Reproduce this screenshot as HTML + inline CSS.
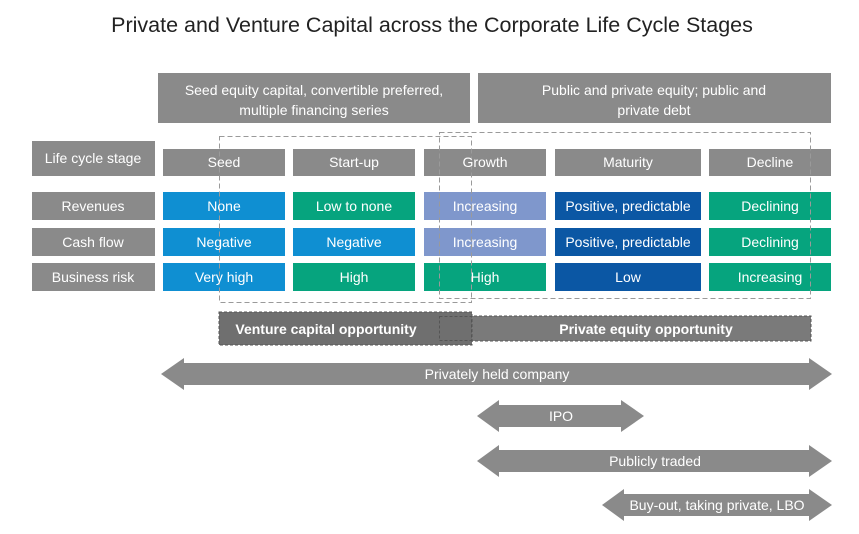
<!DOCTYPE html>
<html><head><meta charset="utf-8"><style>
html,body{margin:0;padding:0;background:#fff;}
svg{display:block;font-family:"Liberation Sans",sans-serif;}
</style></head><body>
<svg width="859" height="534" viewBox="0 0 859 534" xmlns="http://www.w3.org/2000/svg">
<text x="432" y="32" font-size="21.5" fill="#222" text-anchor="middle">Private and Venture Capital across the Corporate Life Cycle Stages</text>
<g fill="#8a8a8a">
<rect x="158" y="73" width="312" height="50"/>
<rect x="478" y="73" width="353" height="50"/>
<rect x="32" y="141" width="123" height="35"/>
<rect x="32" y="192" width="123" height="28"/>
<rect x="32" y="228" width="123" height="28"/>
<rect x="32" y="263" width="123" height="28"/>
<rect x="163" y="149" width="122" height="27"/>
<rect x="293" y="149" width="122" height="27"/>
<rect x="424" y="149" width="122" height="27"/>
<rect x="555" y="149" width="146" height="27"/>
<rect x="709" y="149" width="122" height="27"/>
</g>
<rect x="163" y="192" width="122" height="28" fill="#0f8fd2"/>
<rect x="293" y="192" width="122" height="28" fill="#06a47e"/>
<rect x="424" y="192" width="122" height="28" fill="#7f97cc"/>
<rect x="555" y="192" width="146" height="28" fill="#0b57a4"/>
<rect x="709" y="192" width="122" height="28" fill="#06a47e"/>
<rect x="163" y="228" width="122" height="28" fill="#0f8fd2"/>
<rect x="293" y="228" width="122" height="28" fill="#0f8fd2"/>
<rect x="424" y="228" width="122" height="28" fill="#7f97cc"/>
<rect x="555" y="228" width="146" height="28" fill="#0b57a4"/>
<rect x="709" y="228" width="122" height="28" fill="#06a47e"/>
<rect x="163" y="263" width="122" height="28" fill="#0f8fd2"/>
<rect x="293" y="263" width="122" height="28" fill="#06a47e"/>
<rect x="424" y="263" width="122" height="28" fill="#06a47e"/>
<rect x="555" y="263" width="146" height="28" fill="#0b57a4"/>
<rect x="709" y="263" width="122" height="28" fill="#06a47e"/>
<g fill="none" stroke="#9a9a9a" stroke-width="1" stroke-dasharray="5,3">
<rect x="219.5" y="136.5" width="252" height="166"/>
<rect x="439.5" y="132.5" width="371" height="166"/>
</g>
<rect x="439" y="316" width="372" height="25" fill="#7a7a7a" stroke="#555" stroke-dasharray="3,2"/>
<rect x="219" y="312" width="253" height="33" fill="#6f6f6f" stroke="#555" stroke-dasharray="3,2"/>
<rect x="439.5" y="316.5" width="32" height="24" fill="none" stroke="#555" stroke-dasharray="3,2"/>
<g fill="#8a8a8a">
<polygon points="161,374 184,358 184,363 809,363 809,358 832,374 809,390 809,385 184,385 184,390"/>
<polygon points="477,416 499,400 499,405 621,405 621,400 644,416 621,432 621,427 499,427 499,432"/>
<polygon points="477,461 499,445 499,450 809,450 809,445 832,461 809,477 809,472 499,472 499,477"/>
<polygon points="602,505 624,489 624,494 809,494 809,489 832,505 809,521 809,516 624,516 624,521"/>
</g>
<g fill="#fff" font-size="14" text-anchor="middle">
<text x="314" y="95">Seed equity capital, convertible preferred,</text>
<text x="314" y="115">multiple financing series</text>
<text x="654" y="95">Public and private equity; public and</text>
<text x="654" y="115">private debt</text>
<text x="93" y="163">Life cycle stage</text>
<text x="93" y="211">Revenues</text>
<text x="93" y="247">Cash flow</text>
<text x="93" y="282">Business risk</text>
<text x="224" y="167">Seed</text>
<text x="354" y="167">Start-up</text>
<text x="485" y="167">Growth</text>
<text x="628" y="167">Maturity</text>
<text x="770" y="167">Decline</text>
<text x="224" y="211">None</text>
<text x="354" y="211">Low to none</text>
<text x="485" y="211">Increasing</text>
<text x="628" y="211">Positive, predictable</text>
<text x="770" y="211">Declining</text>
<text x="224" y="247">Negative</text>
<text x="354" y="247">Negative</text>
<text x="485" y="247">Increasing</text>
<text x="628" y="247">Positive, predictable</text>
<text x="770" y="247">Declining</text>
<text x="224" y="282">Very high</text>
<text x="354" y="282">High</text>
<text x="485" y="282">High</text>
<text x="628" y="282">Low</text>
<text x="770" y="282">Increasing</text>
<text x="326" y="334" font-weight="bold">Venture capital opportunity</text>
<text x="646" y="334" font-weight="bold">Private equity opportunity</text>
<text x="497" y="379">Privately held company</text>
<text x="561" y="421">IPO</text>
<text x="655" y="466">Publicly traded</text>
<text x="717" y="510">Buy-out, taking private, LBO</text>
</g>
</svg>
</body></html>
